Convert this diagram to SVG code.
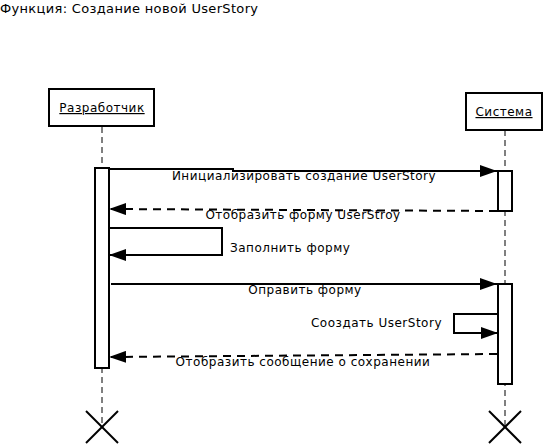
<svg xmlns="http://www.w3.org/2000/svg" width="546" height="446" viewBox="0 0 546 446">
<style>
text{font-family:"DejaVu Sans",sans-serif;fill:#000}
.t{font-size:12px;letter-spacing:0.5px}
.h{font-size:13px;letter-spacing:0.33px}
.box{fill:#fff;stroke:#000;stroke-width:2}
.life{stroke:#000;stroke-width:1;stroke-dasharray:6,4;fill:none}
.act{fill:#fff;stroke:#000;stroke-width:2}
.msg{stroke:#000;stroke-width:2;fill:none}
.ret{stroke:#000;stroke-width:2;fill:none;stroke-dasharray:8,6}
.x{stroke:#000;stroke-width:2}
</style>
<defs>
<marker id="ah" markerWidth="17" markerHeight="12" refX="17" refY="6" orient="auto" markerUnits="userSpaceOnUse">
<path d="M0,0 L17,6 L0,12 Z" fill="#000"/>
</marker>
</defs>
<text class="h" x="0" y="13">Функция: Создание новой UserStory</text>
<g id="lifelines">
<line class="life" x1="102" y1="127" x2="102" y2="427"/>
<line class="life" x1="505" y1="130" x2="505" y2="427"/>
</g>
<g id="developer">
<rect class="box" x="49" y="89" width="105" height="37"/>
<text class="t" x="102" y="112" text-anchor="middle" text-decoration="underline">Разработчик</text>
</g>
<g id="system">
<rect class="box" x="466" y="93" width="76" height="37"/>
<text class="t" x="504" y="116" text-anchor="middle" text-decoration="underline">Система</text>
</g>
<g id="activations">
<rect class="act" x="95" y="168" width="14" height="200"/>
<rect class="act" x="498" y="171" width="14" height="40"/>
<rect class="act" x="498" y="284" width="14" height="100"/>
</g>
<g id="destroy-dev">
<line class="x" x1="86" y1="411" x2="118" y2="443"/>
<line class="x" x1="118" y1="411" x2="86" y2="443"/>
</g>
<g id="destroy-sys">
<line class="x" x1="489" y1="411" x2="521" y2="443"/>
<line class="x" x1="521" y1="411" x2="489" y2="443"/>
</g>
<g id="connectors">
<path class="msg" d="M109,169 L233,169 L233,171 L497,171" marker-end="url(#ah)"/>
<path class="ret" d="M497,211 L109,209" marker-end="url(#ah)"/>
<path class="msg" d="M109,228 L222,228 L222,255 L109,255" marker-end="url(#ah)"/>
<path class="msg" d="M111,284 L497,284" marker-end="url(#ah)"/>
<path class="msg" d="M498,314 L454,314 L454,333 L498,333" marker-end="url(#ah)"/>
<path class="ret" d="M497,354 L109,357" marker-end="url(#ah)"/>
</g>
<g id="labels">
<text class="t" x="304" y="180" text-anchor="middle">Инициализировать создание UserStory</text>
<text class="t" x="303" y="219" text-anchor="middle">Отобразить форму UserStroy</text>
<text class="t" x="230" y="252">Заполнить форму</text>
<text class="t" x="305" y="294" text-anchor="middle">Оправить форму</text>
<text class="t" x="442" y="327" text-anchor="end">Сооздать UserStory</text>
<text class="t" x="303" y="366" text-anchor="middle">Отобразить сообщение о сохранении</text>
</g>
</svg>
